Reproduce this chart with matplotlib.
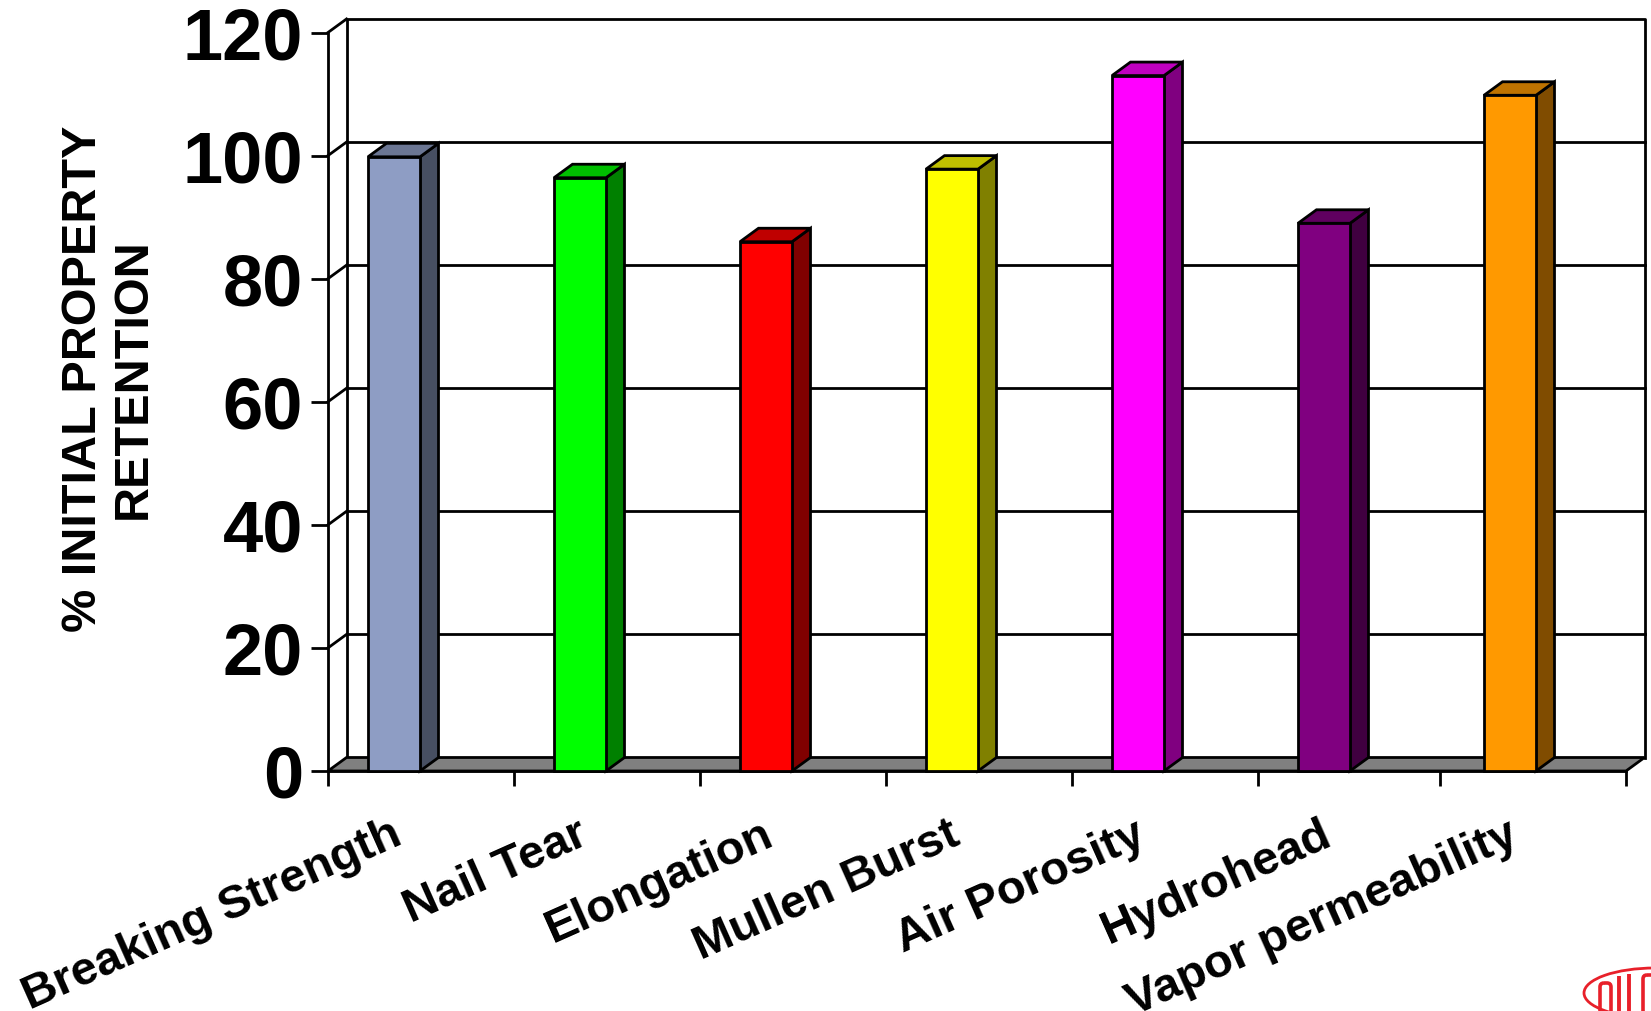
import matplotlib
matplotlib.use("Agg")
import matplotlib.pyplot as plt
from matplotlib.patches import Polygon, Ellipse, FancyBboxPatch

categories = ["Breaking Strength", "Nail Tear", "Elongation", "Mullen Burst",
              "Air Porosity", "Hydrohead", "Vapor permeability"]
values = [99.8, 96.4, 86.0, 97.8, 113.0, 89.0, 109.8]
front_colors = ["#8E9DC4", "#00FF00", "#FF0000", "#FFFF00", "#FF00FF", "#800080", "#FF9900"]
side_colors = ["#474F62", "#008000", "#800000", "#808000", "#800080", "#400040", "#804C00"]
top_colors = ["#6B7693", "#00BF00", "#BF0000", "#BFBF00", "#BF00BF", "#600060", "#BF7300"]
y_ticks = [0, 20, 40, 60, 80, 100, 120]
x_tick_pos = [0, 1, 2, 3, 4, 5, 5.98, 6.978]
y_label = "% INITIAL PROPERTY\nRETENTION"

W, H = 1651, 1011
fig = plt.figure(figsize=(W / 100, H / 100), dpi=100, facecolor="white")
L, R, B, T = 328, 1626, 771, 32.5
UX = 186.0
XMAX = (R - L) / UX
ax = fig.add_axes([L / W, 1 - B / H, (R - L) / W, (B - T) / H])
ax.set_xlim(0, XMAX)
ax.set_ylim(0, 120)
ax.patch.set_visible(False)
for s in ax.spines.values():
    s.set_visible(False)

plt.rcParams["font.family"] = "Liberation Sans"
LW = 2.0
dx = 18.5 / UX
dy = 13.5 / ((B - T) / 120)
k = "black"

def poly(pts, fc, z):
    ax.add_patch(Polygon(pts, closed=True, facecolor=fc, edgecolor=k, lw=LW, zorder=z,
                         clip_on=False, joinstyle="miter"))

# floor
poly([(0, 0), (XMAX, 0), (XMAX + dx, dy), (dx, dy)], "#808080", 2)
# back wall outline and left wall
ax.plot([dx, dx, XMAX + dx, XMAX + dx], [dy, 120 + dy, 120 + dy, dy], color=k, lw=LW, zorder=1, clip_on=False)
ax.plot([0, 0], [0, 120], color=k, lw=LW, zorder=3, clip_on=False)
ax.plot([0, XMAX], [0, 0], color=k, lw=LW, zorder=3, clip_on=False)
# gridlines and diagonals
for v in y_ticks[1:]:
    if v < 120:
        ax.plot([dx, XMAX + dx], [v + dy, v + dy], color=k, lw=LW, zorder=1, clip_on=False)
    ax.plot([0, dx], [v, v + dy], color=k, lw=LW, zorder=1, clip_on=False)

# bars
bar_w = 52 / UX
bar_off = 40 / UX + bar_w / 2
xs = [i + bar_off for i in range(len(values))]
ax.bar(xs, values, width=bar_w, color=front_colors, edgecolor=k, linewidth=LW, zorder=5, clip_on=False)
for x, v, sc, tc in zip(xs, values, side_colors, top_colors):
    x0, x1 = x - bar_w / 2, x + bar_w / 2
    poly([(x1, 0), (x1 + dx, dy), (x1 + dx, v + dy), (x1, v)], sc, 4)
    poly([(x0, v), (x1, v), (x1 + dx, v + dy), (x0 + dx, v + dy)], tc, 4)

# ticks and labels
ax.set_yticks(y_ticks)
ax.set_yticklabels([str(t) for t in y_ticks], fontsize=52, fontweight="bold", family="Liberation Sans")
ax.tick_params(axis="y", length=12.5, width=LW, pad=5.5, color=k)
ax.set_xticks(x_tick_pos)
ax.set_xticklabels([])
ax.tick_params(axis="x", length=10.5, width=LW, color=k)
for i, c in enumerate(categories):
    ax.annotate(c, xy=(i + 0.335, 0), xycoords="data", xytext=(0, -30), textcoords="offset points",
                rotation=24, rotation_mode="anchor", ha="right", va="top",
                fontsize=34, fontweight="bold", family="Liberation Sans", annotation_clip=False)

fig.text(108 / W, 1 - 379 / H, y_label, rotation=90, ha="center", va="center", ma="center",
         fontsize=35, fontweight="bold", family="Liberation Sans", linespacing=1.14)

# logo (partly cut off by the lower edge)
lg = fig.add_axes([0, 0, 1, 1], facecolor="none")
lg.set_xlim(0, W)
lg.set_ylim(H, 0)
lg.axis("off")
red = "#E8202A"
lg.add_patch(Ellipse((1655, 993), 142, 50, fill=False, ec=red, lw=2.0))
lg.add_patch(FancyBboxPatch((1600, 983), 11, 42, boxstyle="round,pad=0,rounding_size=4",
                            fill=False, ec=red, lw=2.6))
lg.plot([1619, 1619], [976, 1011], color=red, lw=2.8, solid_capstyle="butt")
lg.plot([1629, 1629], [974, 1011], color=red, lw=2.8, solid_capstyle="butt")
lg.add_patch(FancyBboxPatch((1643, 975), 16, 40, boxstyle="round,pad=0,rounding_size=4",
                            fill=False, ec=red, lw=2.6))

fig.savefig("out.png", dpi=100)
